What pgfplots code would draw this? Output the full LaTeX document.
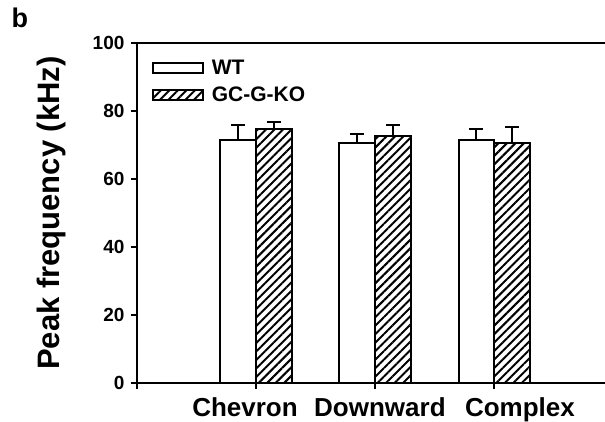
\documentclass[border=0pt]{standalone}
\usepackage{fontspec}
\setmainfont{Liberation Sans}
\usepackage{pgfplots}
\pgfplotsset{compat=1.18}
\usetikzlibrary{patterns.meta}

\begin{document}
\begin{tikzpicture}
\begin{axis}[
  scale only axis,
  width=468pt, height=340pt,
  xmin=0, xmax=3.93,
  ymin=0, ymax=100,
  clip=false,
  axis x line*=box, axis y line*=left,
  axis line style={line width=2pt},
  xtick={0,1,2,3},
  xticklabels={},
  ytick={0,20,40,60,80,100},
  xtick pos=bottom, ytick pos=left,
  tick align=outside,
  major tick length=6pt,
  tick style={line width=2pt, black},
  /pgf/number format/assume math mode=true,
  yticklabel style={font=\bfseries\fontsize{19}{19}\selectfont, xshift=-3pt},
  ylabel={Peak frequency (kHz)},
  every axis y label/.style={at={(rel axis cs:-0.183,0.5)}, rotate=90, anchor=center,
    font=\bfseries\fontsize{31}{31}\selectfont},
  ybar=0pt,
  bar width=0.3,
  legend style={at={(rel axis cs:0.025,0.962)}, anchor=north west, draw=none, fill=none,
    font=\bfseries\fontsize{21}{21}\selectfont, row sep=7pt},
  legend cell align=left,
  legend image code/.code={\draw[#1, line width=2pt] (0pt,-5pt) rectangle (50pt,5pt); \path (56pt,0pt);},
  error bars/error bar style={line width=2pt, black},
  error bars/error mark options={rotate=90, mark size=7pt, line width=2pt, black},
]
% WT
\addplot[draw=black, fill=white, line width=2pt,
  error bars/.cd, y dir=plus, y explicit]
  coordinates {(1,71.5) +- (0,4.4) (2,70.6) +- (0,2.6) (3,71.5) +- (0,3.2)};
\addlegendentry{WT}
% GC-G-KO
\addplot[draw=black, fill=white, line width=2pt,
  pattern={Lines[angle=45, distance=6pt, line width=2pt]}, pattern color=black,
  error bars/.cd, y dir=plus, y explicit]
  coordinates {(1,74.7) +- (0,2.1) (2,72.6) +- (0,3.3) (3,70.6) +- (0,4.7)};
\addlegendentry{GC-G-KO}

% category labels (placed as in the original, not centred on the ticks)
\begin{scope}[every node/.style={font=\bfseries\fontsize{26}{26}\selectfont, anchor=base}]
\node at (axis cs:0.907,0) [yshift=-33pt] {Chevron};
\node at (axis cs:2.04,0) [yshift=-33pt] {Downward};
\node at (axis cs:3.216,0) [yshift=-33pt] {Complex};
\end{scope}

\node[font=\bfseries\fontsize{27}{27}\selectfont] at (rel axis cs:-0.25,1.074) {b};
\coordinate (bb1) at (rel axis cs:-0.2927,-0.1118);
\coordinate (bb2) at (rel axis cs:1,1.1265);
\end{axis}
\pgfresetboundingbox
\path (bb1) rectangle (bb2);
\end{tikzpicture}
\end{document}
